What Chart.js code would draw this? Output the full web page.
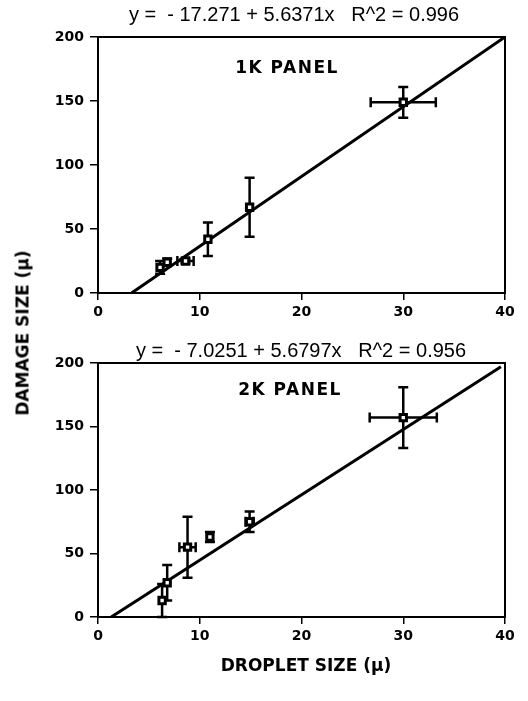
<!DOCTYPE html>
<html>
<head>
<meta charset="utf-8">
<script src="https://cdn.jsdelivr.net/npm/chart.js@4"></script>
<style>
  body { margin: 0; background: #fff; width: 528px; height: 701px; position: relative; overflow: hidden; font-family: "Liberation Sans", Arial, sans-serif; }
  canvas { position: absolute; left: 0; }
  .txt { position: absolute; white-space: pre; transform: translate(-50%, -50%); color: #000; line-height: 1; }
  .eq { font-size: 20px; }
  .panel { font-family: "DejaVu Sans", sans-serif; font-weight: bold; font-size: 17px; letter-spacing: 1.5px; }
  .axt { font-family: "DejaVu Sans", sans-serif; font-weight: bold; font-size: 17px; }
</style>
</head>
<body>
<canvas id="top" width="528" height="330" style="top:0"></canvas>
<canvas id="bottom" width="528" height="371" style="top:330px"></canvas>

<div class="txt eq" style="left:294px;top:14px">y =  - 17.271 + 5.6371x   R^2 = 0.996</div>
<div class="txt eq" style="left:301px;top:350px">y =  - 7.0251 + 5.6797x   R^2 = 0.956</div>
<div class="txt panel" style="left:287px;top:67px">1K PANEL</div>
<div class="txt panel" style="left:290px;top:389px">2K PANEL</div>
<div class="txt axt" style="left:23px;top:333px;transform:translate(-50%,-50%) rotate(-90deg)">DAMAGE SIZE (µ)</div>
<div class="txt axt" style="left:306px;top:665px">DROPLET SIZE (µ)</div>

<script>
// 1K panel
var xs1 = [6.1, 6.8, 8.6, 10.8, 14.9, 30.0];
var ys1 = [20, 24, 25, 42, 67, 149];
var yErr1 = [5, 3, 2, 13, 23, 12];
var xErr1 = [0, 0, 0.8, 0, 0, 3.2];
var fitX1 = [3.3, 40];
var fitY1 = [0, 200];

// 2K panel
var xs2 = [6.3, 6.8, 8.8, 11.0, 14.9, 30.0];
var ys2 = [13, 27, 55, 63, 75, 157];
var yErr2 = [13, 14, 24, 4, 8, 24];
var xErr2 = [0, 0, 0.8, 0, 0.4, 3.3];
var fitX2 = [1.3, 39.6];
var fitY2 = [0, 197];

var xTicks = [0, 10, 20, 30, 40];
var yTicks = [0, 50, 100, 150, 200];

var errorBars = {
    id: 'errorBars',
    beforeDatasetsDraw: function(chart, args, opts) {
        var ctx = chart.ctx, xs = chart.scales.x, ys = chart.scales.y;
        ctx.save();
        ctx.strokeStyle = '#000';
        ctx.lineWidth = 2.5;
        opts.x.forEach(function(xv, i) {
            var px = xs.getPixelForValue(xv), py = ys.getPixelForValue(opts.y[i]);
            var ye = opts.yErr[i], xe = opts.xErr[i], cap = 5;
            if (ye) {
                var t = ys.getPixelForValue(opts.y[i] + ye), b = ys.getPixelForValue(Math.max(0, opts.y[i] - ye));
                ctx.beginPath();
                ctx.moveTo(px, t); ctx.lineTo(px, b);
                ctx.moveTo(px - cap, t); ctx.lineTo(px + cap, t);
                ctx.moveTo(px - cap, b); ctx.lineTo(px + cap, b);
                ctx.stroke();
            }
            if (xe) {
                var l = xs.getPixelForValue(xv - xe), r = xs.getPixelForValue(xv + xe);
                ctx.beginPath();
                ctx.moveTo(l, py); ctx.lineTo(r, py);
                ctx.moveTo(l, py - cap); ctx.lineTo(l, py + cap);
                ctx.moveTo(r, py - cap); ctx.lineTo(r, py + cap);
                ctx.stroke();
            }
        });
        ctx.restore();
    }
};

var frame = {
    id: 'frame',
    afterDraw: function(chart) {
        var a = chart.chartArea, ctx = chart.ctx;
        ctx.save();
        ctx.strokeStyle = '#000';
        ctx.lineWidth = 2;
        ctx.strokeRect(a.left, a.top, a.right - a.left, a.bottom - a.top);
        ctx.restore();
    }
};

function makeChart(id, xs, ys, xErr, yErr, fitX, fitY, padTop, xHeight) {
    var tickFont = { family: 'DejaVu Sans', size: 14, weight: 'bold' };
    return new Chart(document.getElementById(id).getContext('2d'), {
        type: 'scatter',
        data: {
            datasets: [
                {
                    data: xs.map(function(x, i) { return { x: x, y: ys[i] }; }),
                    pointStyle: 'rect',
                    pointRadius: 4.5,
                    backgroundColor: '#fff',
                    borderColor: '#000',
                    borderWidth: 3,
                    order: 0
                },
                {
                    data: fitX.map(function(x, i) { return { x: x, y: fitY[i] }; }),
                    showLine: true,
                    borderColor: '#000',
                    borderWidth: 3,
                    pointRadius: 0,
                    order: 1
                }
            ]
        },
        options: {
            responsive: false,
            animation: false,
            layout: { padding: { top: padTop, right: 23, left: 0, bottom: 0 } },
            scales: {
                x: {
                    min: 0, max: 40,
                    afterBuildTicks: function(s) { s.ticks = xTicks.map(function(v) { return { value: v }; }); },
                    afterFit: function(s) { s.height = xHeight; },
                    border: { color: '#000', width: 2 },
                    grid: { drawOnChartArea: false, tickLength: 7, color: '#000', lineWidth: 1.5 },
                    ticks: { color: '#000', font: tickFont, padding: 4, maxRotation: 0 }
                },
                y: {
                    min: 0, max: 200,
                    afterBuildTicks: function(s) { s.ticks = yTicks.map(function(v) { return { value: v }; }); },
                    afterFit: function(s) { s.width = 98; },
                    border: { color: '#000', width: 2 },
                    grid: { drawOnChartArea: false, tickLength: 8, color: '#000', lineWidth: 1.5 },
                    ticks: { color: '#000', font: tickFont, padding: 6 }
                }
            },
            plugins: {
                legend: { display: false },
                tooltip: { enabled: false },
                errorBars: { x: xs, y: ys, xErr: xErr, yErr: yErr }
            }
        },
        plugins: [errorBars, frame]
    });
}

makeChart('top', xs1, ys1, xErr1, yErr1, fitX1, fitY1, 37, 37);
makeChart('bottom', xs2, ys2, xErr2, yErr2, fitX2, fitY2, 33, 84);
</script>
</body>
</html>
